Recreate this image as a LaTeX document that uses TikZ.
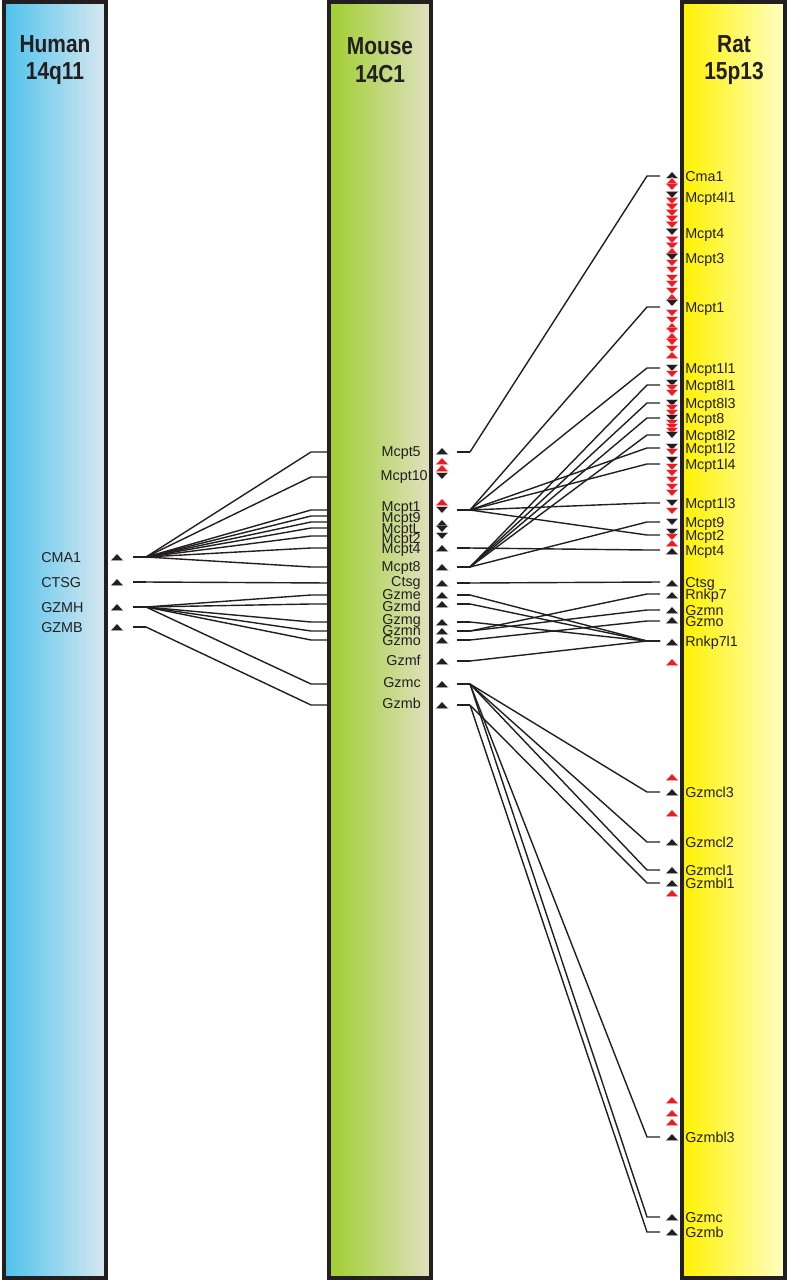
\documentclass[tikz,border=0pt]{standalone}
\usepackage{fontspec}
\setmainfont{Liberation Sans}
\usetikzlibrary{calc}
\definecolor{ink}{HTML}{231F20}
\definecolor{hit}{HTML}{ED1C24}
\definecolor{humanL}{RGB}{78,194,236}
\definecolor{humanR}{RGB}{216,232,240}
\definecolor{mouseL}{RGB}{160,206,48}
\definecolor{mouseR}{RGB}{224,225,192}
\definecolor{ratL}{RGB}{255,241,0}
\definecolor{ratR}{RGB}{255,255,196}
\newcommand{\narrow}[1]{\scalebox{0.85}[1]{#1}}

\begin{document}
\begin{tikzpicture}[x=0.025cm,y=-0.025cm,
  chrom/.style={draw=ink,line width=2.2pt},
  title/.style={font=\bfseries\fontsize{17.5}{19.5}\selectfont,text=ink,align=center},
  gene/.style={font=\fontsize{10.2}{10}\selectfont,text=ink,inner sep=0pt,text height=7.3pt,text depth=0pt},
  link/.style={ink,line width=1pt},
  tri/.style={line width=0.3pt,draw=white}]
  \useasboundingbox (0,0) rectangle (788,1280);
  % chromosomes
  \shade[left color=humanL,right color=humanR] (4,2) rectangle (106,1278);
  \shade[left color=mouseL,right color=mouseR] (329,2) rectangle (431,1278);
  \shade[left color=ratL,right color=ratR] (682,2) rectangle (785,1278);
  \draw[chrom] (4,2) rectangle (106,1278);
  \draw[chrom] (329,2) rectangle (431,1278);
  \draw[chrom] (682,2) rectangle (785,1278);
  \node[title] (tHuman) at (55,60) {\narrow{Human}\\\narrow{14q11}};
  \node[title] (tMouse) at (380,60) {\narrow{Mouse}\\\narrow{14C1}};
  \node[title] (tRat) at (734,60) {\narrow{Rat}\\\narrow{15p13}};

  % human genes
  \foreach \t/\y in {CMA1/557,CTSG/582,GZMH/607,GZMB/627}{
    \node[gene,anchor=west] (hl-\t) at (41,\y) {\t};
    \filldraw[tri,fill=ink] (110.5,\y+3.5) -- (123.5,\y+3.5) -- (117,\y-3.5) -- cycle;
    \coordinate (hs-\t) at (133,\y);
    \coordinate (h-\t) at (146,\y);
    \draw[link] (hs-\t) -- (h-\t);
  }

  % mouse genes
  \foreach \t/\y in {Mcpt5/451,Mcpt1/506,Mcpt9/517,McptL/528,Mcpt2/538,Mcpt4/548,Mcpt8/566,
      Ctsg/581,Gzme/594,Gzmd/606,Gzmg/619,Gzmn/630,Gzmo/640,Gzmf/660,Gzmc/682,Gzmb/703}
    \node[gene,anchor=east] (ml-\t) at (421,\y) {\t};
  \node[gene,anchor=east] (ml-Mcpt10) at (428,475) {Mcpt10};
  \foreach \t/\y in {Mcpt5/452,Mcpt10/477,Mcpt1/510,Mcpt9/516,McptL/522,McptLb/528,Mcpt2/536,
      Mcpt4/548,Mcpt8/567,Ctsg/583,Gzme/595,Gzmd/604,Gzmg/622,Gzmn/631,Gzmo/640,Gzmf/661,
      Gzmc/684,Gzmb/705}{
    \coordinate (mi-\t) at (311,\y);
    \coordinate (mib-\t) at (329,\y);
    \coordinate (mos-\t) at (457,\y);
    \coordinate (mo-\t) at (470,\y);
  }
  \foreach \y/\c/\d in {451/ink/1,461/hit/1,468/hit/1,476/ink/-1,502/hit/1,510/ink/-1,523/ink/1,
      529/ink/-1,536/ink/-1,548/ink/1,567/ink/1,583/ink/1,595/ink/1,604/ink/1,622/ink/1,
      631/ink/1,640/ink/1,661/ink/1,684/ink/1,705/ink/1}
    \filldraw[tri,fill=\c] (435.5,\y+3.5*\d) -- (448.5,\y+3.5*\d) -- (442,\y-3.5*\d) -- cycle;

  % rat genes
  \foreach \t/\y in {Cma1/176,Mcpt4l1/197,Mcpt3/258,Mcpt1/307,Mcpt1l1/368,Mcpt8l1/385,
      Mcpt8l3/403,Mcpt8/418,Mcpt8l2/435,Mcpt1l2/448,Mcpt1l4/464,Mcpt1l3/503,Mcpt9/522,
      Mcpt2/535,Mcpt4/550,Ctsg/582,Rnkp7/594,Gzmn/610,Gzmo/621,Rnkp7l1/641,Gzmcl3/792,
      Gzmcl2/842,Gzmcl1/870,Gzmbl1/883,Gzmbl3/1137,Gzmc/1217,Gzmb/1232}{
    \node[gene,anchor=west] (rl-\t) at (685,\y) {\t};
    \coordinate (r-\t) at (647,\y);
    \coordinate (rs-\t) at (660,\y);
  }
  \node[gene,anchor=west] (rl-Mcpt4up) at (685,233) {Mcpt4};
  \foreach \y/\c/\d in {175/ink/1,181/hit/1,187/hit/-1,195/ink/-1,201/hit/-1,207/hit/-1,
      213/hit/-1,219/hit/-1,225/hit/-1,232/ink/-1,240/hit/-1,246/hit/-1,251/hit/1,257/ink/-1,
      263/hit/-1,270/hit/-1,278/hit/-1,284/hit/-1,291/hit/-1,297/hit/1,303/ink/-1,313/hit/-1,
      320/hit/-1,326/hit/1,331/hit/-1,336/hit/1,342/hit/-1,349/hit/-1,355/hit/1,368/ink/-1,
      374/hit/-1,383/ink/-1,388/hit/-1,393/hit/-1,403/ink/-1,408/hit/-1,413/hit/-1,418/ink/-1,
      423/hit/-1,427/hit/-1,431/hit/-1,435/ink/-1,447/ink/-1,452/hit/-1,460/ink/-1,467/hit/-1,
      473/hit/-1,480/hit/-1,487/hit/-1,493/hit/-1,503/ink/-1,511/hit/-1,522/ink/-1,532/ink/-1,
      537/hit/-1,543/hit/1,551/ink/1,583/ink/1,595/ink/1,610/ink/1,620/ink/1,642/ink/1,
      662/hit/1,777/hit/1,792/ink/1,813/hit/1,842/ink/1,870/ink/1,883/ink/1,893/hit/1,
      1100/hit/1,1113/hit/1,1122/hit/1,1137/ink/1,1217/ink/1,1232/ink/1}
    \filldraw[tri,fill=\c] (665.5,\y+3.5*\d) -- (678.5,\y+3.5*\d) -- (672,\y-3.5*\d) -- cycle;

  % human to mouse
  \foreach \t in {Mcpt5,Mcpt10,Mcpt1,Mcpt9,McptL,McptLb,Mcpt2,Mcpt4,Mcpt8}
    \draw[link] (h-CMA1) -- (mi-\t) -- (mib-\t);
  \draw[link] (h-CTSG) -- (mib-Ctsg);
  \foreach \t in {Gzme,Gzmd,Gzmg,Gzmn,Gzmo,Gzmc}
    \draw[link] (h-GZMH) -- (mi-\t) -- (mib-\t);
  \draw[link] (h-GZMB) -- (mi-Gzmb) -- (mib-Gzmb);

  % mouse to rat
  \foreach \s in {Mcpt5,Mcpt1,Mcpt4,Mcpt8,Ctsg,Gzme,Gzmd,Gzmg,Gzmn,Gzmo,Gzmf,Gzmc,Gzmb}
    \draw[link] (mos-\s) -- (mo-\s);
  \draw[link] (mo-Mcpt5) -- (r-Cma1) -- (rs-Cma1);
  \foreach \t in {Mcpt1,Mcpt1l1,Mcpt1l2,Mcpt1l4,Mcpt1l3,Mcpt2}
    \draw[link] (mo-Mcpt1) -- (r-\t) -- (rs-\t);
  \foreach \t in {Mcpt8l1,Mcpt8l3,Mcpt8,Mcpt8l2,Mcpt9}
    \draw[link] (mo-Mcpt8) -- (r-\t) -- (rs-\t);
  \draw[link] (mo-Mcpt4) -- (r-Mcpt4) -- (rs-Mcpt4);
  \draw[link] (mo-Ctsg) -- (rs-Ctsg);
  \foreach \s in {Gzme,Gzmd,Gzmg,Gzmf}
    \draw[link] (mo-\s) -- (r-Rnkp7l1) -- (rs-Rnkp7l1);
  \draw[link] (mo-Gzmn) -- (r-Rnkp7) -- (rs-Rnkp7);
  \draw[link] (mo-Gzmn) -- (r-Gzmn) -- (rs-Gzmn);
  \draw[link] (mo-Gzmo) -- (r-Gzmo) -- (rs-Gzmo);
  \foreach \t in {Gzmcl3,Gzmcl2,Gzmcl1,Gzmbl3,Gzmc}
    \draw[link] (mo-Gzmc) -- (r-\t) -- (rs-\t);
  \foreach \t in {Gzmbl1,Gzmb}
    \draw[link] (mo-Gzmb) -- (r-\t) -- (rs-\t);
\end{tikzpicture}
\end{document}
